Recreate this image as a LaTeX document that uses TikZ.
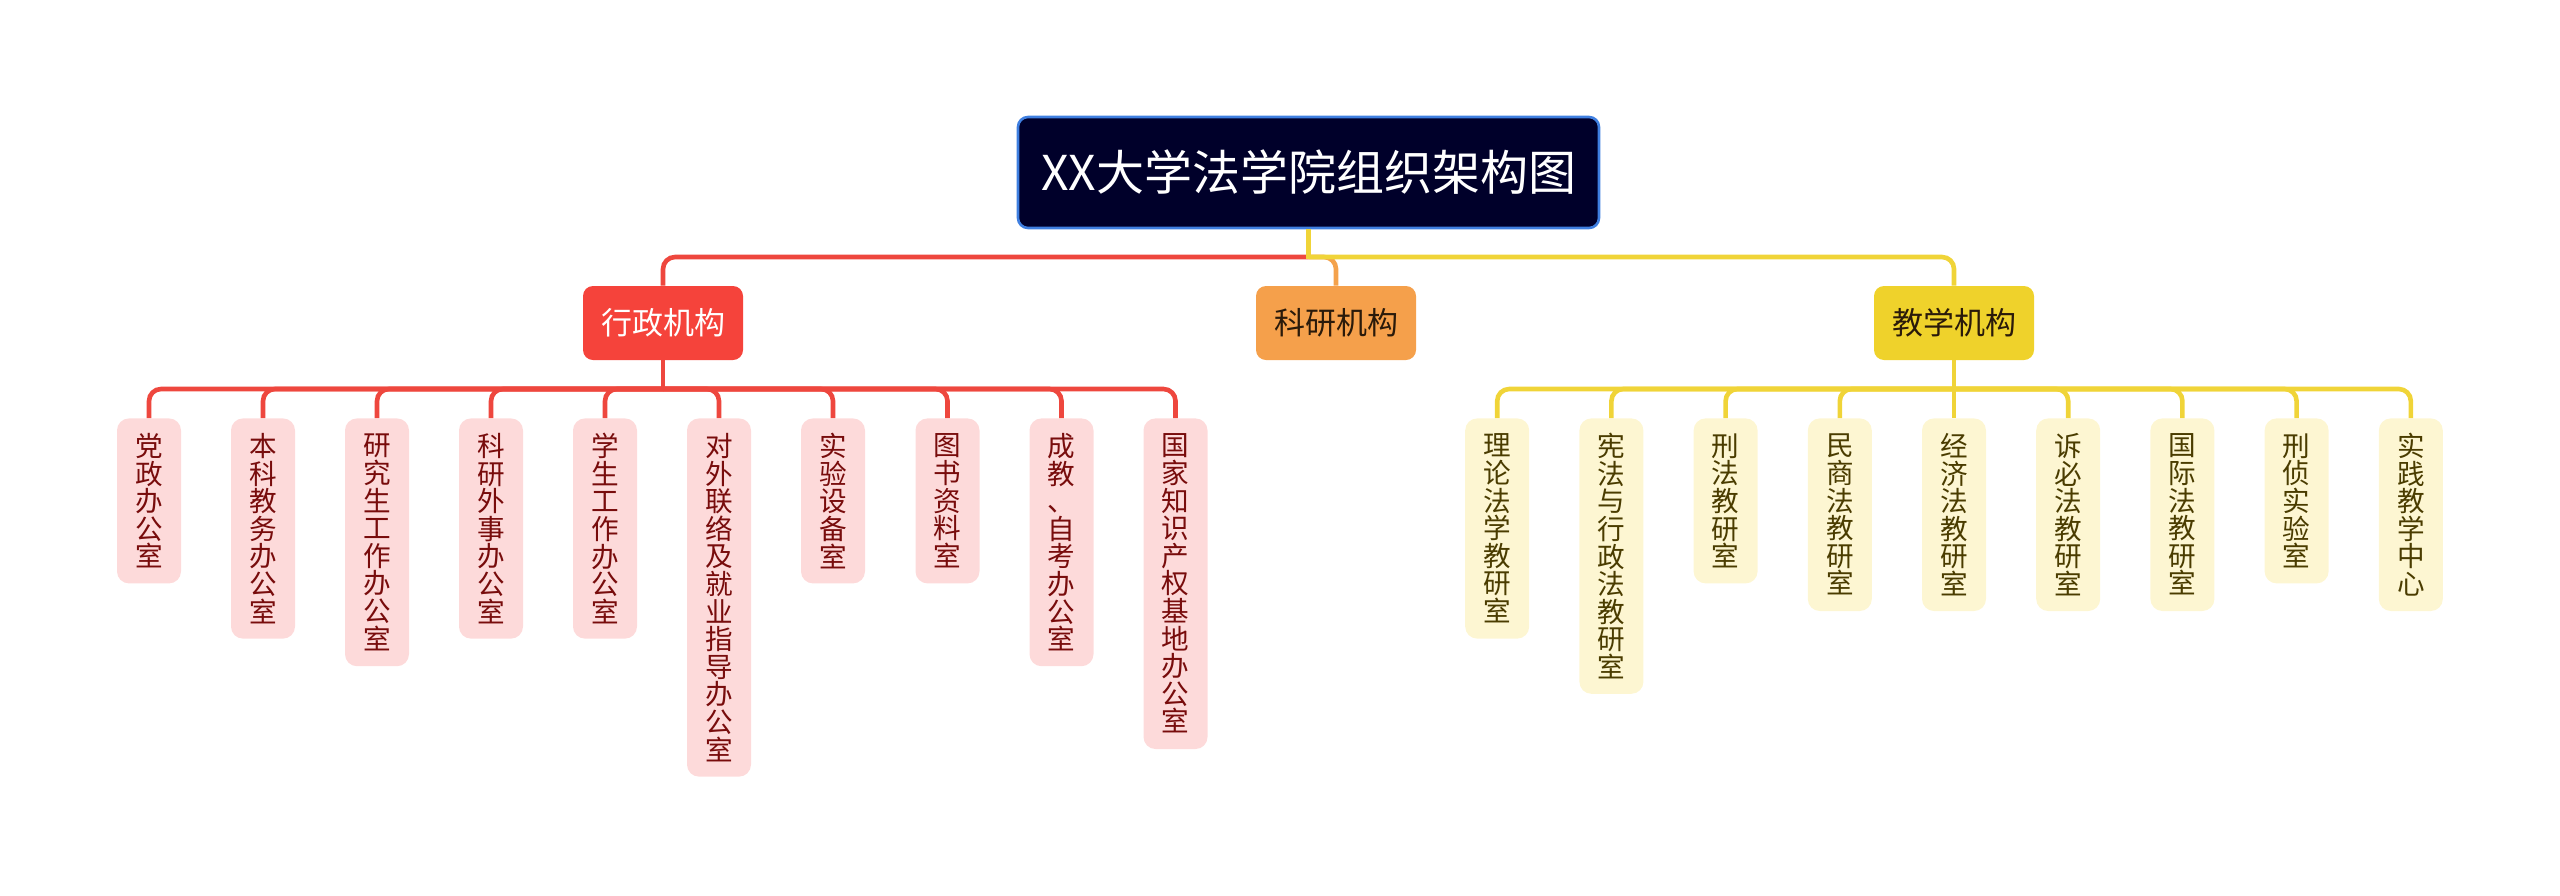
\documentclass[tikz,border=0pt]{standalone}
\usepackage{fontspec}
\setmainfont{Noto Sans CJK SC}
\definecolor{rootfill}{HTML}{00002A}
\definecolor{rootborder}{HTML}{3F7FE0}
\definecolor{redfill}{HTML}{F5433B}
\definecolor{orangefill}{HTML}{F5A04B}
\definecolor{yellowfill}{HTML}{EFD22B}
\definecolor{redline}{HTML}{EE473E}
\definecolor{orangeline}{HTML}{F4A24C}
\definecolor{yellowline}{HTML}{F0D438}
\definecolor{redleaffill}{HTML}{FDDADA}
\definecolor{redleaftext}{HTML}{780C0C}
\definecolor{yelleaffill}{HTML}{FDF6D2}
\definecolor{yelleaftext}{HTML}{4A3C00}
\definecolor{darktext}{HTML}{2A1A0A}
\begin{document}
\begin{tikzpicture}[x=0.5pt,y=-0.5pt,
  rootbox/.style={draw=rootborder, line width=1.3pt, fill=rootfill, rounded corners=5pt, text=white,
    minimum width=290.5pt, minimum height=55.5pt, inner sep=0pt, font=\fontsize{24pt}{29pt}\selectfont},
  branchbox/.style={rounded corners=5pt, minimum width=80pt, minimum height=37pt, inner sep=0pt,
    font=\fontsize{15.5pt}{18pt}\selectfont},
  leafbox/.style={anchor=north, rounded corners=6pt, minimum width=32pt, inner sep=0pt, align=center,
    font=\fontsize{13.8pt}{13.8pt}\selectfont},
  redleaf/.style={leafbox, fill=redleaffill, text=redleaftext},
  yelleaf/.style={leafbox, fill=yelleaffill, text=yelleaftext},
  h5/.style={minimum height=82.5pt},
  h6/.style={minimum height=96.3pt},
  h7/.style={minimum height=110.1pt},
  h8/.style={minimum height=123.9pt},
  h9/.style={minimum height=137.7pt},
  h11/.style={minimum height=165.3pt},
  h12/.style={minimum height=179.1pt},
  conn/.style={line width=2.3pt, rounded corners=6pt},
  rline/.style={conn, draw=redline},
  oline/.style={conn, draw=orangeline},
  yline/.style={conn, draw=yellowline}
]
\useasboundingbox (0,0) rectangle (2560,895);

% root and branches
\node[rootbox] (root) at (1308.5,172.5) {XX大学法学院组织架构图};
\node[branchbox, fill=redfill, text=white] (xz) at (663,323) {行政机构};
\node[branchbox, fill=orangefill, text=darktext] (ky) at (1336,323) {科研机构};
\node[branchbox, fill=yellowfill, text=darktext] (jx) at (1954,323) {教学机构};

% administrative leaves
\node[redleaf, h5]  (r1)  at (149,418)  {党\\政\\办\\公\\室};
\node[redleaf, h7]  (r2)  at (263,418)  {本\\科\\教\\务\\办\\公\\室};
\node[redleaf, h8]  (r3)  at (377,418)  {研\\究\\生\\工\\作\\办\\公\\室};
\node[redleaf, h7]  (r4)  at (491,418)  {科\\研\\外\\事\\办\\公\\室};
\node[redleaf, h7]  (r5)  at (605,418)  {学\\生\\工\\作\\办\\公\\室};
\node[redleaf, h12] (r6)  at (719,418)  {对\\外\\联\\络\\及\\就\\业\\指\\导\\办\\公\\室};
\node[redleaf, h5]  (r7)  at (833,418)  {实\\验\\设\\备\\室};
\node[redleaf, h5]  (r8)  at (947.5,418) {图\\书\\资\\料\\室};
\node[redleaf, h8]  (r9)  at (1061.5,418) {成\\教\\、\\自\\考\\办\\公\\室};
\node[redleaf, h11] (r10) at (1175.5,418) {国\\家\\知\\识\\产\\权\\基\\地\\办\\公\\室};

% teaching leaves
\node[yelleaf, h7] (y1) at (1497.2,418) {理\\论\\法\\学\\教\\研\\室};
\node[yelleaf, h9] (y2) at (1611.4,418) {宪\\法\\与\\行\\政\\法\\教\\研\\室};
\node[yelleaf, h5] (y3) at (1725.6,418) {刑\\法\\教\\研\\室};
\node[yelleaf, h6] (y4) at (1839.8,418) {民\\商\\法\\教\\研\\室};
\node[yelleaf, h6] (y5) at (1954,418)   {经\\济\\法\\教\\研\\室};
\node[yelleaf, h6] (y6) at (2068.2,418) {诉\\必\\法\\教\\研\\室};
\node[yelleaf, h6] (y7) at (2182.4,418) {国\\际\\法\\教\\研\\室};
\node[yelleaf, h5] (y8) at (2296.6,418) {刑\\侦\\实\\验\\室};
\node[yelleaf, h6] (y9) at (2410.8,418) {实\\践\\教\\学\\中\\心};

% top-level connectors
\coordinate (J) at (1308.5,257);
\draw[rline] (J) -| (xz.north);
\draw[oline] (J) -| (ky.north);
\draw[yline] (J) -| (jx.north);
\draw[yline] (root.south) -- ([yshift=-1.1pt]J);

% administrative bus
\coordinate (RB) at (663,389);
\draw[rline] (xz.south) -- (RB);
\foreach \n in {r1,r2,r3,r4,r5,r6,r7,r8,r9,r10}
  \draw[rline] (RB) -| (\n.north);

% teaching bus
\coordinate (YB) at (1954,389);
\draw[yline] (jx.south) -- (YB);
\foreach \n in {y1,y2,y3,y4,y5,y6,y7,y8,y9}
  \draw[yline] (YB) -| (\n.north);
\end{tikzpicture}
\end{document}
